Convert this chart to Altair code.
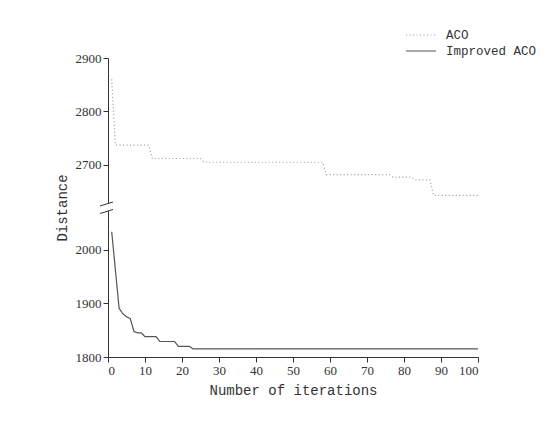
import altair as alt
import pandas as pd

# ACO (dotted) change points
aco_iter = [1, 2, 11, 12, 25, 26, 58, 59, 76, 77, 82, 83, 87, 88, 100]
aco_dist = [2860, 2737, 2737, 2712, 2712, 2705, 2705, 2682, 2682, 2677, 2677, 2672, 2672, 2643, 2643]

# Improved ACO (solid) change points
imp_iter = [1, 3, 4, 5, 6, 7, 8, 9, 10, 13, 14, 18, 19, 22, 23, 100]
imp_dist = [2034, 1891, 1881, 1875, 1872, 1848, 1845, 1845, 1838, 1838, 1829, 1829, 1820, 1820, 1815, 1815]

series = ["ACO", "Improved ACO"]
colors = ["#9a9a9a", "#555555"]
dashes = [[1, 2.5], [1, 0]]
x_ticks = list(range(0, 101, 10))
y_ticks = [1800, 1900, 2000, 2700, 2800, 2900]

df = pd.concat([
    pd.DataFrame({"iter": aco_iter, "dist": aco_dist, "series": series[0]}),
    pd.DataFrame({"iter": imp_iter, "dist": imp_dist, "series": series[1]}),
])

W, H = 370, 299
mono = "Liberation Mono"
serif = "Liberation Serif"

lines = alt.Chart(df).mark_line(strokeWidth=1.2).encode(
    x=alt.X("iter:Q", title="Number of iterations",
            scale=alt.Scale(domain=[0, 100], nice=False, zero=False),
            axis=alt.Axis(values=x_ticks, format="d")),
    y=alt.Y("dist:Q", title="Distance",
            scale=alt.Scale(domain=[1800, 2070, 2625, 2900], range=[H, 154.5, 147, 0],
                            nice=False, zero=False),
            axis=alt.Axis(values=y_ticks, format="d")),
    color=alt.Color("series:N", scale=alt.Scale(domain=series, range=colors), legend=None),
    strokeDash=alt.StrokeDash("series:N", scale=alt.Scale(domain=series, range=dashes),
                              legend=None),
    order="iter:Q",
)

one = pd.DataFrame({"k": [0]})
gap = alt.Chart(one).mark_rule(color="white", strokeWidth=4).encode(
    x=alt.value(0), y=alt.value(146), y2=alt.value(153))
slash1 = alt.Chart(one).mark_rule(color="#333", strokeWidth=1).encode(
    x=alt.value(-8), x2=alt.value(5), y=alt.value(148), y2=alt.value(144))
slash2 = alt.Chart(one).mark_rule(color="#333", strokeWidth=1).encode(
    x=alt.value(-8), x2=alt.value(5), y=alt.value(155.5), y2=alt.value(151.5))

# manual legend (two rows)
legend_layers = []
for i, (name, col, dash) in enumerate(zip(series, colors, dashes)):
    ly = -23 + 16 * i
    legend_layers.append(
        alt.Chart(one).mark_rule(color=col, strokeWidth=1.2, strokeDash=dash).encode(
            x=alt.value(298), x2=alt.value(328), y=alt.value(ly)))
    legend_layers.append(
        alt.Chart(pd.DataFrame({"label": [name]})).mark_text(
            align="left", baseline="middle", font=mono, fontSize=12.5, color="#333").encode(
            x=alt.value(338), y=alt.value(ly), text="label:N"))

chart = alt.layer(lines, gap, slash1, slash2, *legend_layers).properties(
    width=W, height=H,
    autosize=alt.AutoSizeParams(type="none"),
    padding={"left": 100, "top": 50, "right": 60, "bottom": 50},
).configure_view(stroke=None).configure_axis(
    grid=False, domainColor="#333", tickColor="#333", tickSize=5,
    labelFont=serif, labelFontSize=13, labelColor="#333",
    titleFont=mono, titleFontSize=14, titleFontWeight="normal", titleColor="#333",
).configure_axisY(titlePadding=6).configure_axisX(titlePadding=6)

chart.save("out.html", embed_options={"renderer": "svg", "actions": False})
